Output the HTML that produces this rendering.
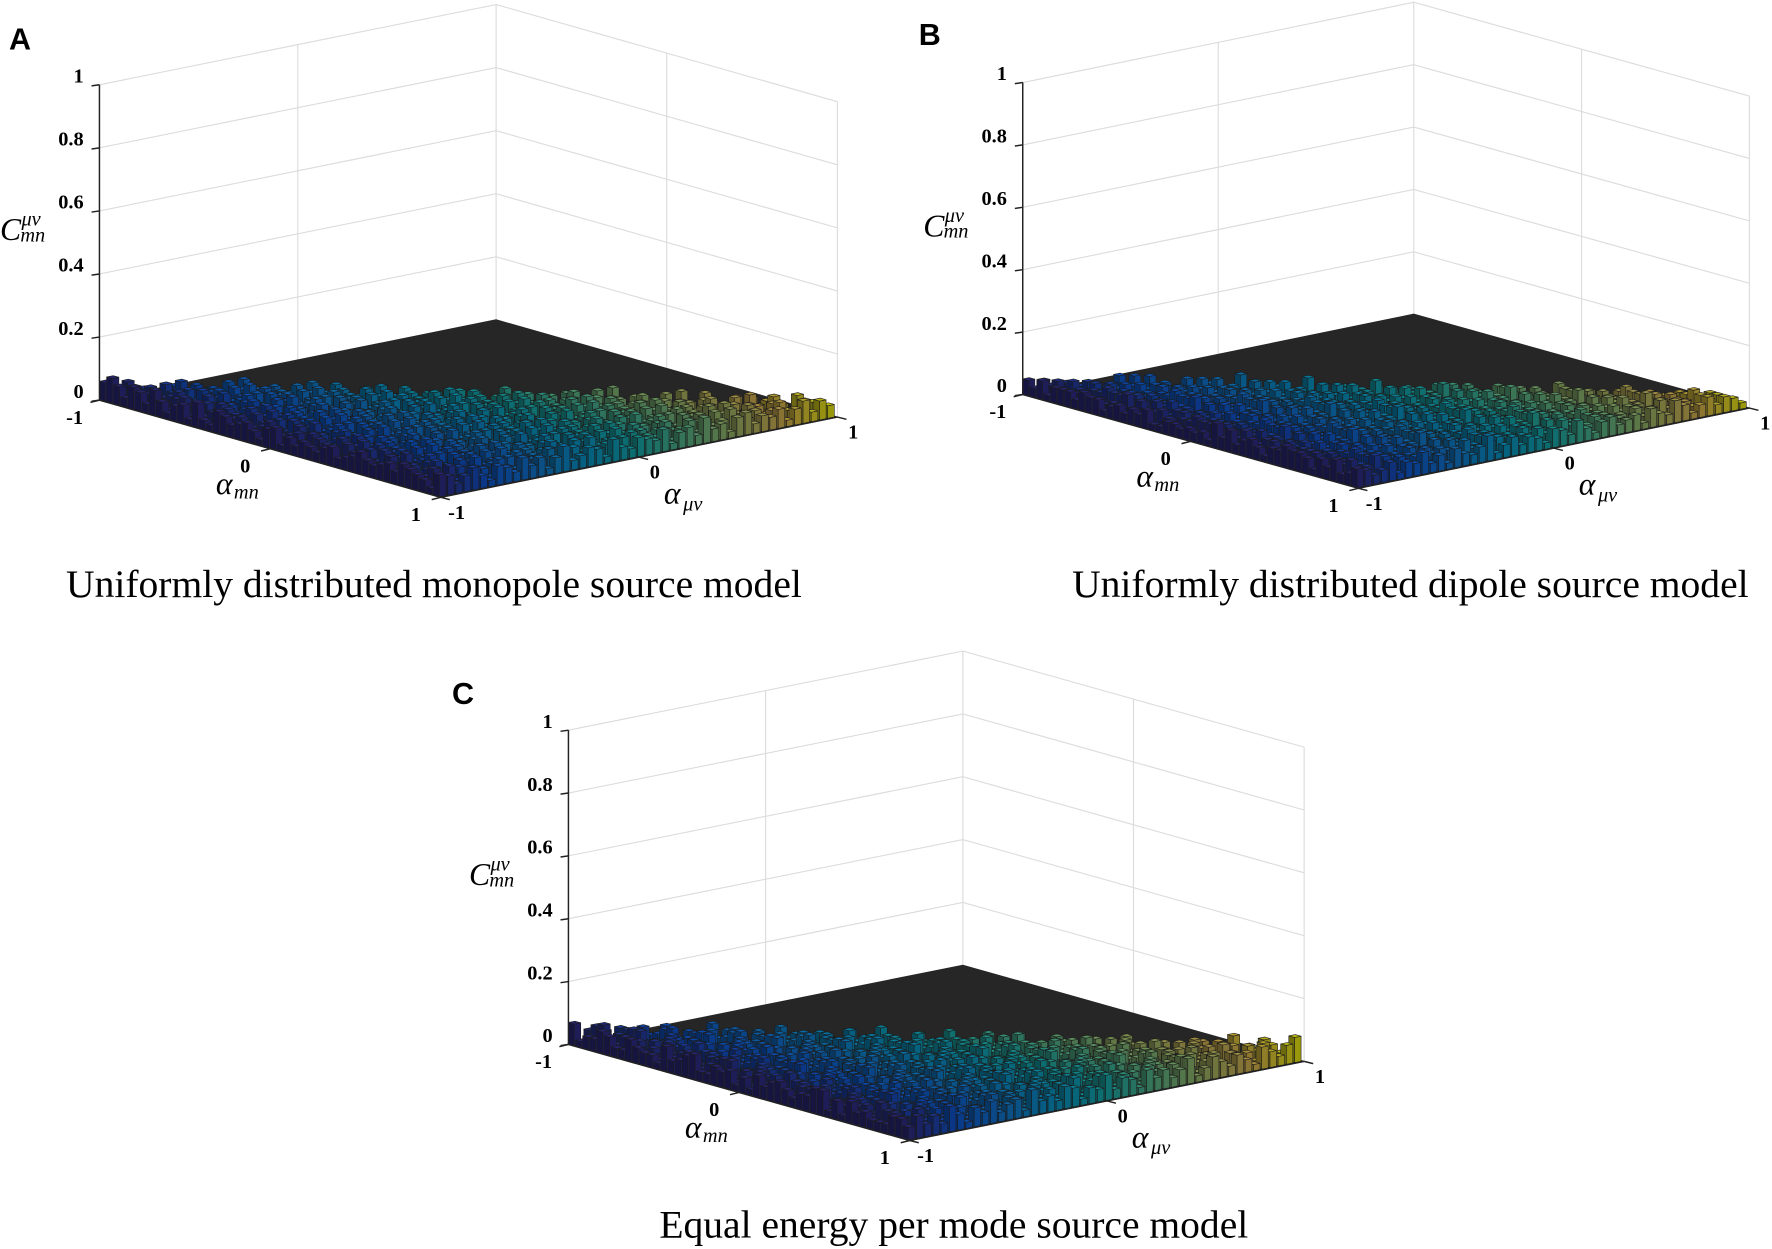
<!DOCTYPE html>
<html><head><meta charset="utf-8"><style>
html,body{margin:0;padding:0;background:#fff;}
svg{display:block;}
.tk{font-family:"Liberation Serif",serif;font-weight:bold;font-size:18px;fill:#000;}
.ax{font-family:"Liberation Serif",serif;font-style:italic;font-size:28px;fill:#000;}
.axs{font-family:"Liberation Serif",serif;font-style:italic;font-size:18px;fill:#000;}
.ttl{font-family:"Liberation Serif",serif;font-size:35px;fill:#000;}
.let{font-family:"Liberation Sans",sans-serif;font-weight:bold;font-size:27px;fill:#000;}
</style></head><body>
<svg id="fig" xmlns="http://www.w3.org/2000/svg" width="1772" height="1249" viewBox="0 0 1568 1105" preserveAspectRatio="none"></svg>
<script>
// ---- data ----
const zTicks = [0, 0.2, 0.4, 0.6, 0.8, 1];
const zTickLabels = ["0", "0.2", "0.4", "0.6", "0.8", "1"];
const xyTicks = [-1, 0, 1];
const xyTickLabels = ["-1", "0", "1"];
const panelLetters = ["A", "B", "C"];
const panelTitles = ["Uniformly distributed monopole source model", "Uniformly distributed dipole source model", "Equal energy per mode source model"];
const heightsA = [0.06,0.03,0.05,0.07,0.04,0.02,0.06,0.05,0.03,0.07,0.04,0.06,0.02,0.05,0.08,0.03,0.04,0.06,0.05,0.02,0.07,0.04,0.03,0.06,0.05,0.04,0.07,0.02,0.05,0.06,0.03,0.08,0.04,0.05,0.02,0.06,0.07,0.03,0.05,0.04,0.06,0.02,0.05,0.07,0.03,0.06,0.04,0.05,0.08,0.02,0.04,0.06,0.03,0.05,0.07,0.04,0.02,0.06,0.05,0.03,0.07];
const heightsB = [0.05,0.03,0.04,0.06,0.02,0.05,0.04,0.07,0.03,0.05,0.02,0.06,0.04,0.03,0.05,0.08,0.02,0.04,0.06,0.03,0.05,0.04,0.02,0.06,0.05,0.03,0.07,0.04,0.02,0.05,0.06,0.03,0.04,0.05,0.02,0.06,0.04,0.03,0.07,0.05,0.02,0.04,0.06,0.03,0.05,0.04,0.02,0.06,0.03,0.05,0.07,0.04,0.02,0.05,0.03,0.06,0.04,0.05,0.02,0.04,0.06];
const heightsC = [0.07,0.04,0.06,0.03,0.08,0.05,0.02,0.06,0.04,0.07,0.03,0.05,0.06,0.02,0.08,0.04,0.05,0.03,0.07,0.06,0.02,0.05,0.04,0.08,0.03,0.06,0.05,0.02,0.07,0.04,0.06,0.03,0.05,0.08,0.02,0.04,0.07,0.05,0.03,0.06,0.04,0.02,0.07,0.05,0.03,0.06,0.08,0.04,0.02,0.05,0.07,0.03,0.06,0.04,0.05,0.02,0.07,0.06,0.03,0.05,0.04];
const panelHeights = [heightsA, heightsB, heightsC];

// geometry (layout, not data)
const geo = [
  {L:[88,354],Bk:[439,283],R:[741,368],F:[390,440],H:279,tx:384,ty:528,lx:8,ly:44},
  {L:[905,349],Bk:[1251,278],R:[1548,361],F:[1202,432],H:276,tx:1248,ty:528,lx:813,ly:40},
  {L:[503,924],Bk:[852,854],R:[1156,937],F:[805,1009],H:278,tx:844,ty:1095,lx:400,ly:623}
];
const N = 48;
const parula = [[53,42,135],[15,92,221],[18,125,216],[7,156,207],[21,177,180],[89,189,140],[165,190,107],[225,185,82],[249,251,14]];
function pcol(t,f){
  t=Math.max(0,Math.min(1,t))*(parula.length-1);
  const i=Math.min(parula.length-2,Math.floor(t)),r=t-i;
  const c=parula[i].map((v,k)=>Math.round((v+(parula[i+1][k]-v)*r)*f));
  return `rgb(${c[0]},${c[1]},${c[2]})`;
}
const NS="http://www.w3.org/2000/svg";
const svg=document.getElementById('fig');
function mk(tag,attrs,parent){const e=document.createElementNS(NS,tag);for(const k in attrs)e.setAttribute(k,attrs[k]);(parent||svg).appendChild(e);return e;}
function txt(s,x,y,cls,anchor,parent){const t=mk('text',{x:x,y:y,class:cls,'text-anchor':anchor||'start'},parent);t.textContent=s;return t;}

geo.forEach((g,pi)=>{
  const gp=mk('g',{});
  
  
  const P=(a,b,z)=>{const u=(a+1)/2,v=(b+1)/2;
    return [g.L[0]+u*(g.F[0]-g.L[0])+v*(g.Bk[0]-g.L[0]), g.L[1]+u*(g.F[1]-g.L[1])+v*(g.Bk[1]-g.L[1])-z*g.H];};
  const pts=a=>a.map(p=>p[0].toFixed(1)+','+p[1].toFixed(1)).join(' ');
  const grid=mk('g',{stroke:'#dcdcdc','stroke-width':1,fill:'none'},gp);
  
  
  zTicks.forEach(z=>{ if(z===0)return;
    mk('polyline',{points:pts([P(-1,-1,z),P(-1,1,z),P(1,1,z)])},grid);});
  [-1,0,1].forEach(b=>{const p=P(-1,b,0),q=P(-1,b,1);mk('line',{x1:p[0],y1:p[1],x2:q[0],y2:q[1]},grid);});
  [0,1].forEach(a=>{const p=P(a,1,0),q=P(a,1,1);mk('line',{x1:p[0],y1:p[1],x2:q[0],y2:q[1]},grid);});
  const fl=mk('polygon',{points:pts([P(-1,-1,0),P(-1,1,0),P(1,1,0),P(1,-1,0)]),fill:'#262626',stroke:'#262626'},gp);
  
  
  const bars=mk('g',{'stroke':'#1c1c1c','stroke-width':0.5},gp);
  
  
  const hs=panelHeights[pi];
  const cells=[];
  for(let i=0;i<N;i++)for(let j=0;j<=i;j++)cells.push([i,j]);
  cells.sort((p,q)=>(q[1]-q[0])-(p[1]-p[0]));
  const cw=2/N, w=cw*0.8;
  cells.forEach(([i,j])=>{
    const z=hs[(i*N+j)%hs.length];
    const a0=-1+i*cw, a1=a0+w, b0=-1+j*cw, b1=b0+w;
    const t=(j+0.5)/N;
    const bg=mk('g',{},bars);
    
    
    mk('polygon',{points:pts([P(a1,b0,0),P(a1,b1,0),P(a1,b1,z),P(a1,b0,z)]),fill:pcol(t,0.62)},bg);
    mk('polygon',{points:pts([P(a0,b0,0),P(a1,b0,0),P(a1,b0,z),P(a0,b0,z)]),fill:pcol(t,0.45)},bg);
    mk('polygon',{points:pts([P(a0,b0,z),P(a1,b0,z),P(a1,b1,z),P(a0,b1,z)]),fill:pcol(t,0.75)},bg);
  });
  const ax=mk('g',{stroke:'#222','stroke-width':1.3,fill:'none'},gp);
  
  
  let p0=P(-1,-1,0),p1=P(-1,-1,1);
  mk('line',{x1:p0[0],y1:p0[1],x2:p1[0],y2:p1[1]},ax);
  mk('polyline',{points:pts([P(-1,-1,0),P(1,-1,0),P(1,1,0)])},ax);
  zTicks.forEach((z,k)=>{const p=P(-1,-1,z);
    mk('line',{x1:p[0]-7,y1:p[1]+1,x2:p[0],y2:p[1]},ax);
    const t=txt(zTickLabels[k],p[0]-14,p[1]-2,'tk','end',gp);
    
    
  });
  xyTicks.forEach((a,k)=>{const p=P(a,-1,0);
    mk('line',{x1:p[0],y1:p[1],x2:p[0]-8,y2:p[1]+2},ax);
    const t=txt(xyTickLabels[k],p[0]-22,p[1]+21,'tk','middle',gp);
    
    
  });
  xyTicks.forEach((b,k)=>{const p=P(1,b,0);
    mk('line',{x1:p[0],y1:p[1],x2:p[0]+8,y2:p[1]+2},ax);
    const t=txt(xyTickLabels[k],p[0]+14,p[1]+19,'tk','middle',gp);
    
    
  });
  let m=P(0,-1,0);
  const lx=mk('g',{},gp);
  
  
  txt('α',m[0]-48,m[1]+40,'ax','start',lx);
  txt('mn',m[0]-32,m[1]+44,'axs','start',lx);
  m=P(1,0,0);
  const ly=mk('g',{},gp);
  
  
  txt('α',m[0]+22,m[1]+41,'ax','start',ly);
  txt('μν',m[0]+39,m[1]+47,'axs','start',ly);
  m=P(-1,-1,0.55);
  const lz=mk('g',{},gp);
  
  
  txt('C',m[0]-88,m[1]+12,'ax','start',lz);
  txt('μν',m[0]-69,m[1]-1,'axs','start',lz);
  txt('mn',m[0]-70,m[1]+13,'axs','start',lz);
  const tt=txt(panelTitles[pi],g.tx,g.ty,'ttl','middle',gp);
  
  
  const lt=txt(panelLetters[pi],g.lx,g.ly,'let','start',gp);
  
  
});
</script>
</body></html>
